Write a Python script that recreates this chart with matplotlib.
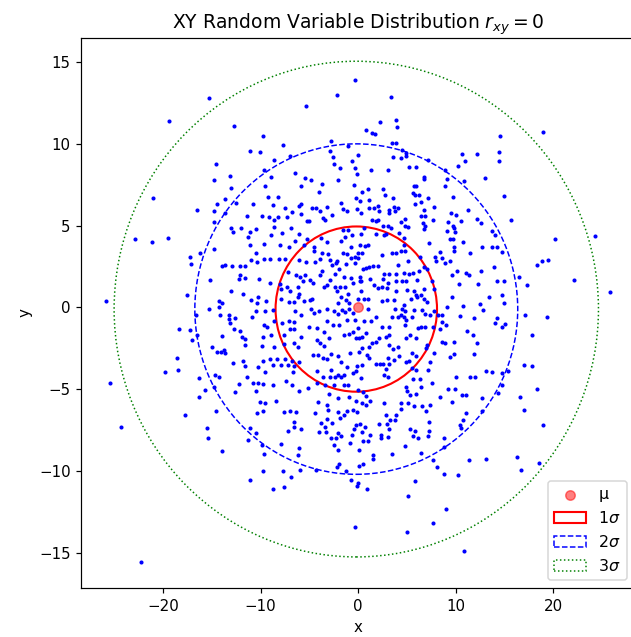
import numpy as np
import matplotlib
matplotlib.use("Agg")
import matplotlib.pyplot as plt
from matplotlib.patches import Ellipse

# sample points, grouped by region
pts_top_left = [
    (-0.3, 13.88), (-2.13, 13.0), (-15.3, 12.8), (-5.4, 12.3), (-19.4, 11.4), (-12.7, 11.1), (-9.8, 10.46),
    (-2.74, 10.2), (-7.73, 9.95), (-11.1, 9.58), (-10.05, 9.5), (-2.85, 9.58), (-1.0, 9.85), (-0.05, 9.3),
    (-7.0, 9.28), (-8.6, 9.0), (-2.6, 9.2), (-0.6, 8.95), (-14.6, 8.77), (-2.5, 8.79), (-1.9, 8.54),
    (-0.3, 8.54), (-9.7, 8.42), (-13.1, 8.03), (-6.5, 8.2), (-8.96, 7.97), (-0.1, 8.18), (-14.8, 7.77),
    (-5.5, 7.89), (-4.83, 7.77), (-2.1, 7.77), (-13.0, 7.32), (-9.57, 7.4), (-5.9, 7.4), (-3.7, 7.54),
    (-0.4, 7.46), (-3.97, 7.03), (-21.0, 6.69), (-9.2, 6.75), (-8.2, 6.75), (-13.6, 6.6), (-0.2, 6.69),
    (-14.45, 6.32), (-12.5, 6.38), (-10.8, 6.3), (-8.7, 6.24), (-5.9, 6.32), (-6.1, 6.2), (-4.76, 6.1),
    (-4.35, 6.1), (-3.2, 6.16), (-1.79, 6.36), (-1.6, 6.0), (-1.2, 5.89), (-0.1, 5.99), (-7.5, 6.1),
    (-16.5, 5.93), (-14.8, 5.87), (-13.6, 5.75), (-6.8, 5.81), (-5.9, 5.71), (-3.87, 5.89), (-2.64, 5.63),
    (-11.4, 5.58), (-9.9, 5.58), (-9.16, 5.5), (-8.6, 5.36), (-8.2, 5.5), (-7.25, 5.5), (-3.6, 5.48),
    (-3.36, 5.34), (-5.3, 5.28), (-5.0, 5.28), (-14.8, 5.2), (-13.0, 4.85), (-12.85, 4.6), (-12.0, 4.85),
    (-11.1, 4.6), (-10.5, 4.77), (-8.6, 4.91), (-8.96, 4.4), (-7.76, 4.54), (-6.9, 4.85), (-6.1, 4.46),
    (-5.3, 4.2), (-1.6, 4.75), (-1.04, 4.75), (-0.6, 4.4), (-1.4, 4.3), (-22.85, 4.2), (-19.5, 4.26),
    (-11.3, 4.3), (-3.84, 4.26),
]

pts_top_right = [
    (3.36, 12.86), (2.27, 11.33), (3.84, 11.48), (3.97, 11.03), (0.8, 10.83), (1.4, 10.66), (1.7, 10.6),
    (18.95, 10.74), (14.55, 10.46), (3.46, 10.05), (3.87, 10.05), (4.45, 9.64), (4.9, 9.44), (4.93, 9.25),
    (3.6, 9.19), (4.42, 9.13), (14.4, 9.5), (14.4, 8.95), (10.66, 9.36), (12.13, 9.36), (7.1, 9.03),
    (10.9, 8.93), (10.2, 8.62), (1.28, 8.42), (3.09, 8.42), (5.17, 8.56), (5.89, 8.56), (8.92, 8.38),
    (6.74, 7.97), (6.74, 7.83), (9.06, 7.83), (12.95, 7.91), (10.8, 7.75), (1.04, 7.26), (2.5, 7.26),
    (5.68, 7.4), (5.96, 7.4), (8.85, 7.4), (0.43, 7.03), (2.75, 6.89), (5.58, 6.99), (5.78, 6.89),
    (6.19, 6.89), (14.9, 6.81), (0.19, 6.5), (1.14, 6.59), (3.6, 6.69), (7.15, 6.69), (9.67, 6.75),
    (6.4, 6.46), (5.78, 6.3), (7.73, 6.16), (1.14, 6.1), (1.66, 6.1), (2.07, 6.22), (3.7, 6.16),
    (4.1, 6.1), (0.33, 5.79), (2.1, 5.87), (3.19, 5.93), (3.19, 5.79), (3.77, 5.87), (6.77, 5.93),
    (6.47, 5.57), (6.8, 5.57), (9.53, 5.79), (10.05, 5.65), (11.28, 5.93), (4.83, 5.42), (1.41, 5.34),
    (1.82, 5.28), (2.0, 5.36), (4.35, 5.2), (7.7, 5.36), (9.19, 5.2), (10.52, 5.28), (12.13, 5.42),
    (12.6, 5.14), (15.64, 5.36), (6.64, 5.14), (6.87, 5.0), (4.8, 5.0), (5.07, 4.94), (2.54, 5.0),
    (3.02, 5.0), (3.33, 4.85), (0.63, 4.85), (6.74, 4.77), (9.06, 4.69), (9.67, 5.0), (9.85, 4.85),
    (9.88, 4.6), (13.7, 4.69), (14.04, 4.42), (1.86, 4.48), (2.64, 4.4), (2.89, 4.48), (4.2, 4.54),
    (4.69, 4.26), (0.33, 4.46), (20.2, 4.2), (24.3, 4.34), (9.4, 4.16), (9.7, 4.16),
]

pts_mid_left = [
    (-21.1, 4.0), (-11.07, 3.8), (-9.7, 3.88), (-8.0, 3.84), (-7.08, 3.68), (-6.53, 4.09), (-5.58, 3.84),
    (-4.52, 3.7), (-3.15, 4.0), (-1.8, 4.09), (-0.73, 3.72), (-3.7, 3.35), (-3.08, 3.27), (-4.5, 3.43),
    (-14.8, 3.56), (-16.2, 3.33), (-17.25, 3.1), (-17.1, 2.68), (-10.5, 3.33), (-9.0, 2.99), (-9.7, 2.99),
    (-11.0, 2.9), (-10.4, 2.78), (-8.1, 2.99), (-7.5, 2.99), (-6.03, 2.9), (-5.38, 2.78), (-4.42, 2.78),
    (-3.94, 2.99), (-2.85, 2.9), (-2.2, 2.86), (-1.59, 3.31), (-1.11, 3.27), (-0.7, 3.03), (-0.32, 3.1),
    (0.02, 3.31), (-2.3, 2.7), (-2.65, 2.58), (-1.96, 2.38), (-1.28, 2.66), (-0.29, 2.72), (-13.7, 2.62),
    (-14.0, 2.54), (-12.9, 2.54), (-12.1, 2.54), (-11.6, 2.52), (-12.1, 1.97), (-12.25, 1.72), (-11.6, 1.8),
    (-10.2, 1.72), (-15.2, 1.68), (-9.0, 1.52), (-8.0, 1.44), (-7.2, 2.17), (-6.4, 2.0), (-5.99, 1.88),
    (-5.64, 1.64), (-4.9, 1.68), (-5.44, 1.97), (-3.74, 2.21), (-3.94, 1.97), (-4.66, 1.48), (-2.92, 1.68),
    (-2.34, 2.05), (-1.48, 1.84), (-0.73, 1.8), (-0.53, 1.52), (0.15, 1.64), (-7.25, 1.27), (-7.9, 1.11),
    (-7.0, 0.99), (-6.16, 1.27), (-6.05, 0.82), (-6.2, 0.66), (-3.5, 1.23), (-3.16, 1.35), (-2.41, 1.27),
    (-1.9, 1.27), (-1.35, 1.27), (-2.2, 0.99), (-1.76, 0.66), (-1.21, 0.48), (-0.9, 0.26), (-1.0, 0.82),
    (0.26, 0.99), (-13.0, 0.99), (-11.8, 0.82), (-17.5, 0.78), (-14.3, 0.42), (-13.95, 0.26), (-14.3, 0.05),
    (-15.3, -0.07), (-25.8, 0.42), (-11.0, 0.48), (-10.3, 0.66), (-10.35, 0.26), (-10.5, -0.19),
    (-9.57, -0.19), (-10.9, -0.56), (-9.4, 0.38), (-8.7, -0.15), (-7.9, 0.54), (-7.1, 0.34), (-6.57, 0.34),
    (-5.6, 0.38), (-4.96, 0.46), (-4.72, 0.5), (-6.5, -0.19), (-5.82, -0.44), (-4.86, -0.07), (-4.0, -0.19),
    (-3.16, -0.07), (-4.52, -0.36), (-2.44, -0.19), (-2.06, -0.4), (-1.62, -0.15), (-1.38, -0.28),
    (-0.94, -0.11), (-0.56, -0.36), (-2.06, 0.26), (-16.6, -0.48), (-14.2, -0.48), (-13.2, -0.44),
    (-12.6, -0.64), (-13.2, -0.72), (-13.1, -0.97), (-18.4, -1.31), (-17.2, -1.38), (-16.5, -1.66),
    (-17.0, -1.99), (-14.0, -1.76), (-12.75, -1.29), (-12.1, -1.46), (-11.9, -1.83), (-11.65, -1.9),
    (-11.55, -2.27), (-9.7, -1.09), (-9.3, -1.21), (-9.76, -1.83), (-8.9, -1.7), (-8.6, -0.85),
    (-7.8, -0.97), (-7.05, -0.85), (-6.63, -0.89), (-6.97, -1.29), (-6.57, -1.29), (-7.6, -1.66),
    (-5.9, -1.79), (-5.0, -1.17), (-4.25, -1.25), (-3.2, -0.81), (-2.58, -1.09), (-1.93, -1.05),
    (-1.14, -0.77), (-0.36, -0.75), (-1.48, -1.66), (-0.94, -1.62), (-0.56, -1.5), (0.02, -1.25),
    (-0.22, -1.87), (-3.5, -1.5), (-2.99, -1.87), (-4.2, -1.97), (-3.9, -2.19), (-3.5, -2.36),
    (-6.16, -2.4), (-6.63, -2.19), (-7.6, -2.23), (-8.6, -2.44), (-9.85, -2.36), (-15.0, -2.44),
    (-14.5, -2.7), (-14.1, -2.7), (-13.8, -2.6), (-13.7, -2.79), (-18.6, -3.09), (-18.5, -3.82),
    (-19.8, -3.95), (-25.4, -4.62), (-12.8, -3.37), (-11.8, -3.29), (-11.6, -3.58), (-9.8, -3.29),
    (-10.3, -3.66), (-11.4, -4.23), (-9.6, -3.95), (-9.0, -3.13), (-8.7, -3.54), (-7.9, -3.5), (-8.3, -3.13),
    (-7.5, -3.13), (-7.2, -3.5), (-6.8, -3.25), (-6.56, -3.58), (-6.05, -3.33), (-6.7, -3.95),
    (-4.66, -2.93), (-4.1, -2.93), (-3.56, -3.09), (-3.16, -3.13), (-2.8, -2.85), (-2.06, -2.99),
    (-0.87, -2.79), (0.08, -2.72), (-1.72, -3.33), (-1.11, -3.66), (-0.15, -3.58), (-2.75, -3.82),
    (-4.2, -3.86), (-3.57, -4.23), (-2.89, -4.23), (-2.42, -4.23), (-2.1, -4.11), (-1.76, -4.23),
    (-1.42, -4.15), (-0.56, -3.99), (-14.7, -4.11), (-14.3, -4.23), (-16.3, -4.31), (-14.8, -4.84),
    (-15.7, -5.05), (-16.3, -5.45), (-12.2, -4.68), (-12.6, -5.17), (-10.8, -4.64), (-10.3, -4.64),
    (-9.8, -4.68), (-8.7, -4.72), (-7.4, -4.52), (-6.8, -4.76), (-6.05, -5.13), (-5.1, -4.93),
    (-4.2, -4.64), (-3.4, -4.72), (-2.48, -4.76), (-1.45, -4.72), (-1.0, -4.72), (-3.0, -5.29),
    (-10.5, -5.13), (-10.06, -5.78), (-9.57, -5.82), (-8.4, -5.7), (-4.1, -5.78), (-3.16, -5.95),
    (-2.06, -5.54), (-0.9, -5.46), (-0.22, -5.74), (-17.7, -6.55), (-14.6, -6.31), (-10.4, -6.47),
    (-9.8, -6.31), (-7.6, -6.39), (-7.0, -6.35), (-6.34, -6.39), (-4.4, -6.47), (-3.08, -6.27),
    (-2.1, -6.39), (-1.45, -6.55), (-1.11, -6.31), (-0.56, -6.25), (-0.15, -6.39),
]

pts_mid_right = [
    (0.22, 3.8), (0.7, 3.74), (0.97, 3.8), (0.36, 3.33), (2.47, 3.23), (3.43, 3.33), (3.84, 3.33),
    (4.35, 3.44), (4.8, 3.48), (4.66, 3.8), (6.3, 3.07), (5.14, 2.82), (4.11, 2.62), (-0.05, 3.03),
    (0.77, 2.42), (1.11, 2.46), (1.52, 2.52), (1.99, 2.54), (0.5, 2.34), (2.68, 2.05), (3.17, 2.05),
    (3.9, 2.05), (4.69, 2.13), (5.2, 2.05), (5.6, 2.13), (6.23, 2.21), (6.7, 2.46), (7.0, 2.38),
    (0.22, 1.84), (0.26, 1.6), (1.25, 1.76), (1.66, 1.4), (2.54, 1.72), (3.09, 1.48), (3.9, 1.64),
    (4.45, 1.64), (4.86, 1.64), (6.0, 1.68), (7.52, 1.64), (7.76, 1.15), (6.74, 1.15), (1.99, 1.19),
    (2.41, 1.23), (2.92, 1.19), (3.84, 0.99), (5.0, 1.07), (5.75, 0.99), (5.96, 0.74), (6.43, 0.78),
    (6.78, 0.54), (7.05, 0.34), (-0.05, 0.5), (0.56, 0.5), (0.97, 0.5), (2.47, 0.42), (2.95, 0.46),
    (3.64, 0.46), (4.66, 0.17), (5.38, 0.5), (6.06, 0.62), (0.97, -0.07), (3.77, -0.07), (4.5, -0.11),
    (4.8, -0.19), (5.75, -0.15), (6.5, -0.15), (6.88, -0.4), (7.4, -0.48), (7.8, -0.23), (8.2, -0.48),
    (3.5, -0.6), (4.1, -0.6), (4.39, -0.48), (4.73, -0.56), (5.48, -0.6), (0.63, -0.81), (1.31, -0.81),
    (1.86, -0.6), (2.47, -1.17), (3.17, -1.17), (4.8, -1.09), (4.93, -0.77), (6.09, -1.25), (6.43, -1.21),
    (6.8, -1.17), (7.66, -1.17), (8.55, -0.48), (8.55, -0.89), (8.35, -1.29), (8.96, -1.09), (9.13, 0.05),
    (9.64, 0.66), (10.4, -0.52), (10.7, 0.09), (11.9, -0.64), (12.44, 0.21), (12.8, -0.15), (12.24, 1.44),
    (10.3, 1.44), (9.64, 2.0), (10.15, 2.25), (11.0, 2.09), (11.35, 1.97), (12.58, 2.25), (13.9, 2.46),
    (14.18, 1.6), (14.9, 1.6), (14.76, 0.78), (14.93, 0.26), (13.4, 0.62), (13.98, -0.95), (14.2, -0.64),
    (14.76, -1.21), (15.0, -1.01), (12.7, 3.72), (13.67, 3.68), (14.25, 3.72), (14.7, 3.4), (10.74, 4.0),
    (9.85, 3.72), (9.85, 3.44), (11.42, 3.33), (7.87, 3.1), (7.93, 2.86), (8.62, 3.03), (8.89, 2.7),
    (9.37, 2.82), (7.25, 3.94), (8.42, 3.4), (16.5, 1.84), (17.3, 1.4), (17.1, -0.44), (18.3, 2.62),
    (18.8, 2.86), (19.4, 2.9), (22.1, 1.66), (25.75, 0.95), (19.3, -0.6), (17.8, -1.7), (17.0, -3.52),
    (17.8, -3.58), (18.3, -4.96), (16.6, -5.47), (17.0, -6.27), (11.15, -1.42), (11.76, -1.7),
    (12.2, -2.17), (11.86, -2.85), (9.78, -2.11), (8.9, -2.19), (8.62, -2.11), (7.8, -2.79), (9.81, -2.85),
    (9.44, -3.03), (7.08, -2.27), (6.98, -2.48), (7.39, -3.33), (5.92, -2.97), (5.55, -2.77), (4.86, -3.33),
    (5.2, -3.25), (4.18, -2.99), (3.67, -3.21), (3.09, -3.09), (3.16, -3.46), (2.58, -3.46), (2.82, -3.74),
    (1.79, -3.46), (2.27, -3.46), (1.11, -3.09), (0.94, -2.89), (0.36, -2.48), (0.09, -1.87), (0.43, -1.78),
    (0.77, -1.54), (1.38, -2.19), (1.11, -2.4), (1.79, -2.11), (2.13, -1.87), (2.82, -1.78), (3.16, -1.7),
    (3.16, -2.27), (3.57, -2.56), (4.11, -2.4), (4.86, -1.87), (5.27, -1.7), (5.89, -1.87), (0.36, -3.5),
    (-0.19, -3.9), (0.29, -4.31), (-0.05, -5.02), (0.49, -5.17), (0.77, -5.41), (1.25, -5.74),
    (0.43, -5.82), (0.77, -5.95), (2.68, -5.84), (2.61, -4.11), (3.09, -4.27), (4.86, -4.84), (5.0, -5.09),
    (5.27, -5.33), (5.9, -5.29), (6.43, -4.88), (5.61, -4.4), (6.37, -4.4), (7.12, -3.82), (7.59, -4.64),
    (5.48, -3.7), (5.89, -3.82), (4.35, -5.86), (4.39, -6.19), (5.14, -5.86), (5.75, -6.05), (6.57, -6.05),
    (6.91, -6.35), (7.32, -5.99), (3.9, -6.6), (2.88, -6.55), (8.35, -5.45), (9.23, -4.96), (9.64, -5.78),
    (9.98, -4.27), (9.92, -4.96), (10.6, -5.33), (11.07, -5.33), (11.42, -4.27), (11.96, -4.27),
    (11.0, -6.47), (12.7, -5.54), (13.1, -3.86), (13.67, -3.94), (14.7, -4.01), (15.3, -3.86),
    (14.76, -4.72), (14.3, -5.25), (12.65, -6.35),
]

pts_bot_left = [
    (-24.3, -7.3), (-15.5, -7.36), (-15.4, -7.95), (-14.0, -8.75), (-11.1, -7.36), (-10.5, -7.67),
    (-11.3, -8.1), (-9.84, -8.38), (-9.67, -8.97), (-9.77, -9.97), (-11.1, -10.56), (-8.78, -11.07),
    (-7.58, -11.0), (-7.68, -9.97), (-7.96, -8.32), (-7.2, -7.53), (-6.6, -7.02), (-6.6, -7.3),
    (-5.87, -7.42), (-6.1, -8.6), (-6.2, -9.03), (-5.98, -9.91), (-6.86, -10.36), (-4.37, -9.91),
    (-4.03, -7.59), (-3.8, -7.08), (-3.38, -7.3), (-3.2, -6.8), (-2.7, -7.08), (-3.28, -7.61),
    (-2.8, -7.95), (-2.29, -7.95), (-1.78, -7.87), (-2.08, -7.67), (-2.53, -8.38), (-2.08, -8.69),
    (-1.9, -6.75), (-0.89, -8.28), (-0.65, -7.81), (-0.48, -7.42), (-0.27, -7.16), (0.07, -8.69),
    (-1.98, -9.56), (-2.22, -9.77), (-1.23, -9.97), (-0.75, -10.56), (0.07, -9.71), (0.0, -10.72),
    (-0.14, -10.93), (-0.38, -13.39), (-22.3, -15.59),
]

pts_bot_right = [
    (18.9, -7.2), (0.14, -7.12), (0.72, -7.28), (2.08, -7.12), (2.97, -7.12), (3.24, -6.87), (3.79, -6.85),
    (3.14, -7.4), (0.38, -7.61), (1.2, -7.81), (2.36, -7.81), (3.04, -7.93), (2.29, -8.01), (0.51, -8.14),
    (0.96, -8.18), (1.47, -9.03), (1.47, -9.24), (3.42, -8.95), (4.75, -8.46), (5.33, -7.4), (5.84, -7.57),
    (5.64, -7.87), (6.08, -7.97), (7.27, -6.99), (7.2, -7.53), (7.14, -7.87), (6.46, -8.89), (8.78, -8.01),
    (8.78, -8.54), (10.4, -7.16), (10.55, -7.36), (10.7, -6.85), (0.44, -9.56), (7.65, -9.32),
    (8.03, -9.77), (8.78, -10.17), (10.25, -10.27), (11.34, -9.32), (13.05, -9.24), (16.3, -9.12),
    (16.7, -9.93), (18.5, -9.48), (5.8, -10.62), (0.85, -11.07), (5.09, -11.5), (9.0, -12.29),
    (7.65, -13.18), (4.99, -13.7), (10.83, -14.86),
]

# distribution parameters
mu = (0.0, 0.0)
center = (-0.2, -0.1)
sigma_x = 8.27
sigma_y = 5.05
n_sigma = [1, 2, 3]
ell_colors = ["red", "blue", "green"]
ell_styles = ["-", "--", ":"]

pts = np.array(pts_top_left + pts_top_right + pts_mid_left + pts_mid_right + pts_bot_left + pts_bot_right)

dpi = 108
fig = plt.figure(figsize=(631 / dpi, 637 / dpi), dpi=dpi)
ax = fig.add_axes([0.1284, 0.0769, 0.8779, 0.8642])

ax.scatter(pts[:, 0], pts[:, 1], s=3, color="blue", zorder=2)
ax.scatter(mu[0], mu[1], s=40, color="red", alpha=0.5, label="μ", zorder=3)

lws = [1.4, 1.0, 1.0]
for n, c, ls, lw in zip(n_sigma, ell_colors, ell_styles, lws):
    e = Ellipse(center, 2 * n * sigma_x, 2 * n * sigma_y, fill=False, edgecolor=c,
                linestyle=ls, linewidth=lw, label=rf"{n}$\sigma$")
    ax.add_patch(e)

ax.set_xlim(-28.4, 28.35)
ax.set_ylim(-17.15, 16.5)
ax.set_title(r"XY Random Variable Distribution $r_{xy} = 0$", fontsize=12.5)
ax.set_xlabel("x")
ax.set_ylabel("y")
ax.legend(loc="lower right", fontsize=10.5)

fig.savefig("out.png", dpi=dpi)
